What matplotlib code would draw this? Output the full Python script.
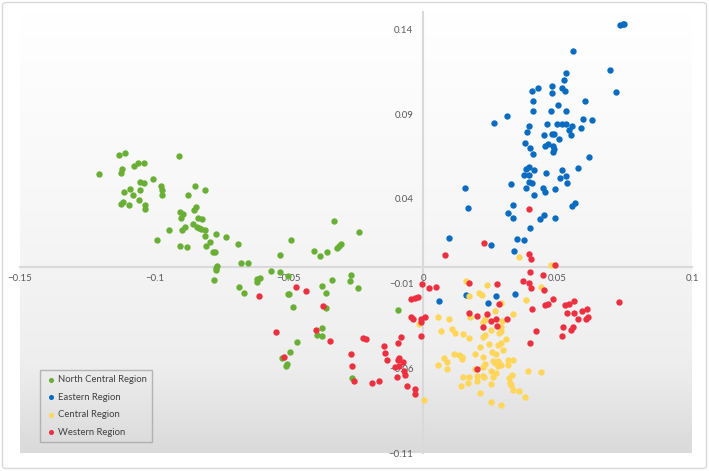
import numpy as np
import matplotlib
matplotlib.use("Agg")
import matplotlib.pyplot as plt
from matplotlib.patches import FancyBboxPatch
from matplotlib.colors import LinearSegmentedColormap

plt.rcParams['font.family'] = ['Lato', 'DejaVu Sans']

# North Central Region
nc_x = [-0.1205, -0.1132, -0.1111, -0.1122, -0.1126, -0.1076, -0.1062, -0.1039, -0.0908, -0.1055,
        -0.1040, -0.1006, -0.0975, -0.0972, -0.0971, -0.1091, -0.1113, -0.1079, -0.1055, -0.1057,
        -0.1034, -0.1034, -0.1126, -0.1116, -0.1096, -0.0850, -0.0812, -0.0874, -0.0903, -0.0895,
        -0.0900, -0.0846, -0.0853, -0.0836, -0.0824, -0.0858, -0.0887, -0.0899, -0.0843, -0.0833,
        -0.0826, -0.0813, -0.0947, -0.0992, -0.0903, -0.0880, -0.0810, -0.0769, -0.0734, -0.0794,
        -0.0808, -0.0783, -0.0776, -0.0689, -0.0766, -0.0769, -0.0771, -0.0780, -0.0687, -0.0679,
        -0.0652, -0.0533, -0.0490, -0.0406, -0.0385, -0.0359, -0.0330, -0.0320, -0.0313, -0.0305,
        -0.0239, -0.0567, -0.0532, -0.0502, -0.0618, -0.0608, -0.0618, -0.0668, -0.0504, -0.0499,
        -0.0486, -0.0376, -0.0363, -0.0341, -0.0270, -0.0274, -0.0244, -0.0361, -0.0471, -0.0497,
        -0.0525, -0.0506, -0.0511, -0.0377, -0.0394, -0.0378, -0.0266, -0.0095]
nc_y = [0.0549, 0.0658, 0.0670, 0.0579, 0.0555, 0.0593, 0.0611, 0.0614, 0.0650, 0.0500,
        0.0493, 0.0518, 0.0475, 0.0453, 0.0422, 0.0461, 0.0441, 0.0425, 0.0455, 0.0392,
        0.0364, 0.0339, 0.0370, 0.0382, 0.0363, 0.0473, 0.0453, 0.0424, 0.0325, 0.0311,
        0.0286, 0.0353, 0.0333, 0.0288, 0.0282, 0.0254, 0.0236, 0.0219, 0.0236, 0.0230,
        0.0223, 0.0217, 0.0217, 0.0158, 0.0121, 0.0116, 0.0181, 0.0191, 0.0177, 0.0146,
        0.0121, 0.0087, 0.0085, 0.0136, 0.0006, -0.0006, -0.0019, -0.0079, -0.0120, 0.0020,
        0.0024, 0.0067, 0.0159, 0.0091, 0.0063, 0.0085, 0.0272, 0.0112, 0.0124, 0.0134,
        0.0203, -0.0024, -0.0031, -0.0053, -0.0074, -0.0067, -0.0092, -0.0154, -0.0161, -0.0159,
        -0.0236, -0.0114, -0.0157, -0.0077, -0.0051, -0.0086, -0.0126, -0.0244, -0.0443, -0.0502,
        -0.0539, -0.0571, -0.0585, -0.0360, -0.0405, -0.0409, -0.0659, -0.0258]

# Eastern Region
ea_x = [0.0732, 0.0742, 0.0747, 0.0556, 0.0695, 0.0718, 0.0531, 0.0523, 0.0517, 0.0528,
        0.0406, 0.0426, 0.0481, 0.0481, 0.0408, 0.0602, 0.0409, 0.0475, 0.0502, 0.0531,
        0.0593, 0.0628, 0.0310, 0.0263, 0.0392, 0.0386, 0.0460, 0.0496, 0.0517, 0.0531,
        0.0554, 0.0543, 0.0586, 0.0549, 0.0448, 0.0480, 0.0485, 0.0504, 0.0377, 0.0396,
        0.0408, 0.0452, 0.0464, 0.0483, 0.0485, 0.0484, 0.0616, 0.0381, 0.0393, 0.0412,
        0.0375, 0.0393, 0.0393, 0.0406, 0.0458, 0.0516, 0.0510, 0.0533, 0.0535, 0.0577,
        0.0326, 0.0382, 0.0411, 0.0445, 0.0454, 0.0489, 0.0154, 0.0167, 0.0335, 0.0315,
        0.0333, 0.0450, 0.0434, 0.0491, 0.0553, 0.0563, 0.0398, 0.0096, 0.0349, 0.0375,
        0.0252, 0.0339, 0.0060, 0.0161, 0.0269, 0.0241, 0.0341]
ea_y = [0.1426, 0.1429, 0.1432, 0.1272, 0.1160, 0.1030, 0.1140, 0.1103, 0.1051, 0.1034,
        0.1036, 0.1051, 0.1066, 0.1026, 0.0977, 0.0979, 0.0918, 0.0918, 0.0951, 0.0918,
        0.0872, 0.0865, 0.0886, 0.0845, 0.0829, 0.0794, 0.0839, 0.0839, 0.0839, 0.0839,
        0.0829, 0.0807, 0.0818, 0.0774, 0.0778, 0.0780, 0.0784, 0.0753, 0.0731, 0.0699,
        0.0667, 0.0709, 0.0725, 0.0711, 0.0693, 0.0678, 0.0648, 0.0575, 0.0585, 0.0569,
        0.0538, 0.0540, 0.0502, 0.0493, 0.0552, 0.0569, 0.0526, 0.0536, 0.0496, 0.0583,
        0.0487, 0.0463, 0.0422, 0.0467, 0.0443, 0.0459, 0.0463, 0.0345, 0.0363, 0.0319,
        0.0288, 0.0304, 0.0280, 0.0286, 0.0360, 0.0378, 0.0229, 0.0171, 0.0164, 0.0156,
        0.0128, 0.0095, -0.0201, -0.0169, -0.0171, -0.0214, -0.0161]

# Central Region
ce_x = [-0.0015, 0.0004, 0.0054, 0.0161, 0.0171, 0.0237, 0.0207, 0.0217, 0.0290, 0.0440,
        0.0381, 0.0333, 0.0056, 0.0097, 0.0173, 0.0268, 0.0230, 0.0223, 0.0292, 0.0252,
        0.0288, 0.0290, 0.0281, 0.0067, 0.0109, 0.0118, 0.0147, 0.0171, 0.0221, 0.0231,
        0.0307, 0.0288, 0.0277, 0.0244, 0.0212, 0.0297, 0.0257, 0.0269, 0.0191, 0.0115,
        0.0132, 0.0144, 0.0143, 0.0078, 0.0088, 0.0088, 0.0223, 0.0258, 0.0277, 0.0267,
        0.0279, 0.0288, 0.0316, 0.0333, 0.0315, 0.0231, 0.0223, 0.0193, 0.0251, 0.0260,
        0.0269, 0.0202, 0.0223, 0.0228, 0.0147, 0.0171, 0.0166, 0.0139, 0.0201, 0.0254,
        0.0319, 0.0331, 0.0324, 0.0327, 0.0333, 0.0355, 0.0378, 0.0391, 0.0438, 0.0210,
        0.0251, 0.0288, 0.0355, 0.0475]
ce_y = [-0.0338, -0.0784, -0.0582, -0.0084, -0.0175, -0.0106, -0.0157, -0.0167, -0.0216, -0.0120,
        -0.0198, -0.0281, -0.0297, -0.0307, -0.0297, -0.0262, -0.0309, -0.0325, -0.0319, -0.0376,
        -0.0354, -0.0378, -0.0390, -0.0378, -0.0366, -0.0388, -0.0398, -0.0423, -0.0415, -0.0405,
        -0.0427, -0.0447, -0.0464, -0.0455, -0.0476, -0.0492, -0.0500, -0.0517, -0.0514, -0.0516,
        -0.0520, -0.0532, -0.0543, -0.0541, -0.0561, -0.0604, -0.0532, -0.0555, -0.0555, -0.0569,
        -0.0585, -0.0577, -0.0547, -0.0549, -0.0579, -0.0575, -0.0591, -0.0604, -0.0616, -0.0650,
        -0.0626, -0.0644, -0.0644, -0.0651, -0.0650, -0.0650, -0.0687, -0.0703, -0.0671, -0.0689,
        -0.0659, -0.0641, -0.0683, -0.0697, -0.0728, -0.0732, -0.0768, -0.0614, -0.0620, -0.0746,
        -0.0795, -0.0815, 0.0059, 0.0010]

# Western Region
we_x = [-0.0612, -0.0475, -0.0436, -0.0374, -0.0548, -0.0516, -0.0399, -0.0348, -0.0223, -0.0214,
        -0.0269, -0.0266, -0.0259, -0.0190, -0.0165, -0.0146, -0.0142, -0.0134, -0.0095, -0.0083,
        -0.0095, -0.0089, -0.0074, -0.0104, -0.0090, -0.0071, -0.0069, -0.0097, -0.0060, -0.0030,
        -0.0032, -0.0004, 0.0022, 0.0048, -0.0046, -0.0031, -0.0020, -0.0047, -0.0037, -0.0010,
        -0.0010, 0.0007, -0.0009, 0.0169, 0.0274, 0.0281, 0.0370, 0.0397, 0.0393, 0.0400,
        0.0444, 0.0449, 0.0404, 0.0310, 0.0169, 0.0202, 0.0237, 0.0272, 0.0251, 0.0221,
        0.0273, 0.0418, 0.0397, 0.0202, 0.0452, 0.0465, 0.0484, 0.0528, 0.0542, 0.0562,
        0.0536, 0.0562, 0.0577, 0.0590, 0.0609, 0.0605, 0.0613, 0.0520, 0.0558, 0.0548,
        0.0516, 0.0728, 0.0393, 0.0227, 0.0081, 0.0393, 0.0401, 0.0490]
we_y = [-0.0173, -0.0120, -0.0142, -0.0230, -0.0386, -0.0535, -0.0376, -0.0437, -0.0419, -0.0427,
        -0.0514, -0.0588, -0.0675, -0.0687, -0.0673, -0.0470, -0.0510, -0.0549, -0.0451, -0.0417,
        -0.0547, -0.0538, -0.0561, -0.0594, -0.0587, -0.0616, -0.0636, -0.0650, -0.0703, -0.0722,
        -0.0752, -0.0102, -0.0124, -0.0120, -0.0193, -0.0185, -0.0177, -0.0295, -0.0311, -0.0307,
        -0.0323, -0.0297, -0.0411, -0.0095, -0.0104, -0.0222, -0.0084, -0.0030, -0.0098, -0.0124,
        -0.0051, -0.0139, -0.0250, -0.0309, -0.0272, -0.0289, -0.0279, -0.0307, -0.0321, -0.0358,
        -0.0349, -0.0380, -0.0452, -0.0603, -0.0228, -0.0222, -0.0191, -0.0224, -0.0219, -0.0204,
        -0.0275, -0.0272, -0.0307, -0.0262, -0.0250, -0.0311, -0.0297, -0.0356, -0.0354, -0.0374,
        -0.0411, -0.0210, 0.0343, 0.0142, 0.0071, 0.0073, 0.0047, 0.0012]

x_ticks = [-0.15, -0.1, -0.05, 0, 0.05, 0.1]
x_tick_labels = ["\u22120.15", "\u22120.1", "\u22120.05", "0", "0.05", "0.1"]
y_ticks = [-0.11, -0.06, -0.01, 0.04, 0.09, 0.14]
y_tick_labels = ["\u22120.11", "\u22120.06", "\u22120.01", "0.04", "0.09", "0.14"]

fig = plt.figure(figsize=(7.09, 4.71), dpi=100)
ax = fig.add_axes([20 / 709, 1 - 453.3 / 471, 672 / 709, 441 / 471])
ax.set_xlim(-0.15, 0.1)
ax.set_ylim(-0.11, 0.15)

# chart border
fig.patches.append(FancyBboxPatch((2.5 / 709, 2.5 / 471), 704 / 709, 466 / 471,
                                  boxstyle="round,pad=0,rounding_size=0.006",
                                  transform=fig.transFigure, fc="white", ec="#d9d9d9",
                                  lw=1.0, zorder=-10))

# plot-area gradient, white at top to light gray at bottom
grad_cmap = LinearSegmentedColormap.from_list(
    "bg", [(0.0, "#ffffff"), (0.45, "#f7f7f7"), (0.8, "#eeeeee"), (1.0, "#dadada")])
ax.set_facecolor("none")
ax.imshow(np.linspace(0, 1, 256).reshape(-1, 1), extent=[-0.15, 0.1, -0.11, 0.15],
          aspect="auto", cmap=grad_cmap, origin="upper", zorder=0)

ms = 21
ax.scatter(nc_x, nc_y, s=ms, color="#6aaf35", lw=0, label="North Central Region", zorder=3)
ax.scatter(ea_x, ea_y, s=ms, color="#0a6cc0", lw=0, label="Eastern Region", zorder=3)
ax.scatter(ce_x, ce_y, s=ms, color="#ffd55a", lw=0, label="Central Region", zorder=3)
ax.scatter(we_x, we_y, s=ms, color="#ec3040", lw=0, label="Western Region", zorder=3)

for side in ["top", "right"]:
    ax.spines[side].set_visible(False)
ax.spines["left"].set_position(("data", 0))
ax.spines["bottom"].set_position(("data", 0))
for side in ["left", "bottom"]:
    ax.spines[side].set_color("#d9d9d9")
    ax.spines[side].set_linewidth(1.5)
    ax.spines[side].set_zorder(1)

ax.set_xticks(x_ticks)
ax.set_xticklabels(x_tick_labels)
ax.set_yticks(y_ticks)
ax.set_yticklabels(y_tick_labels)
ax.tick_params(length=0, labelsize=7, labelcolor="#595959")
ax.tick_params(axis="x", pad=5)
ax.tick_params(axis="y", pad=7)

leg = ax.legend(loc="lower left", bbox_to_anchor=(40 / 709, 29 / 471),
                bbox_transform=fig.transFigure, borderaxespad=0, fontsize=6.8,
                frameon=True, fancybox=False, handletextpad=0.1, labelspacing=0.9,
                borderpad=0.55, markerscale=0.8, handlelength=1.3)
leg.get_frame().set_edgecolor("#a6a6a6")
leg.get_frame().set_facecolor("none")
leg.get_frame().set_linewidth(1.0)
for t in leg.get_texts():
    t.set_color("#404040")

fig.savefig("out.png", dpi=100)
